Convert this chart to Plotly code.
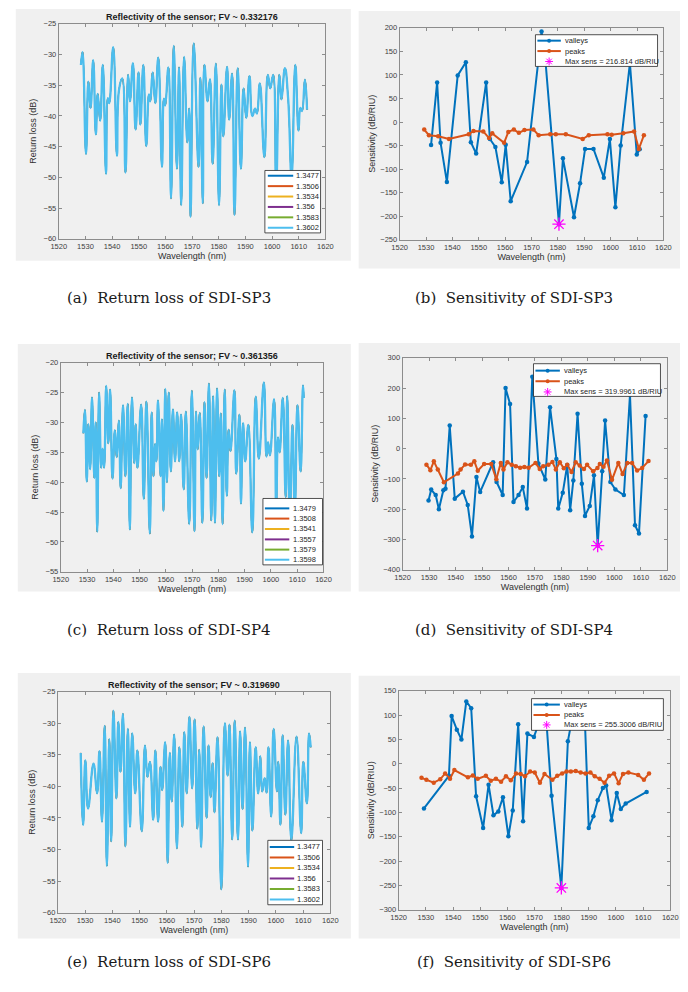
import plotly.graph_objects as go

W, H = 688, 992

# ===================== DATA =====================
wavelength_ticks = [1520, 1530, 1540, 1550, 1560, 1570, 1580, 1590, 1600, 1610, 1620]

# ---- (a) SDI-SP3 return loss (extrema) ----
sp3_fv = "0.332176"
sp3_ri = ["1.3477", "1.3506", "1.3534", "1.356", "1.3583", "1.3602"]
sp3_wl = [1528.3, 1528.9, 1530.2, 1531.1, 1531.9, 1532.9, 1533.9, 1534.6, 1535.5, 1536.5,
          1537.7, 1538.4, 1538.9, 1540.4, 1541.8, 1542.6, 1543.8, 1545.0, 1546.0, 1546.7,
          1547.8, 1548.8, 1549.9, 1550.6, 1551.7, 1552.8, 1553.8, 1554.3, 1555.2, 1556.2,
          1557.3, 1558.7, 1559.4, 1559.9, 1561.1, 1562.1, 1563.1, 1564.3, 1565.1, 1565.9,
          1567.0, 1568.2, 1568.9, 1569.4, 1570.6, 1572.4, 1573.1, 1574.0, 1574.6, 1575.8,
          1576.7, 1577.7, 1578.9, 1580.1, 1581.0, 1581.7, 1583.1, 1583.9, 1585.0, 1585.9,
          1587.1, 1588.3, 1589.3, 1590.3, 1591.5, 1592.6, 1593.6, 1594.3, 1595.4, 1597.1,
          1598.4, 1599.3, 1600.4, 1601.5, 1602.7, 1603.5, 1604.8, 1606.0, 1607.3, 1608.7,
          1609.9, 1610.6, 1611.2, 1612.3, 1613.1]
sp3_rl = [-31.7, -29.6, -46.2, -34.4, -38.7, -30.9, -43.0, -36.4, -40.8, -31.7,
          -49.4, -37.1, -37.9, -28.8, -46.5, -35.7, -33.9, -49.2, -33.3, -37.6,
          -31.4, -42.2, -32.9, -41.4, -31.7, -44.9, -36.5, -37.6, -32.9, -37.9,
          -30.5, -48.3, -37.2, -38.3, -32.1, -53.4, -28.6, -48.6, -32.1, -54.5,
          -30.4, -44.3, -38.8, -56.4, -28.2, -48.3, -33.8, -54.2, -31.7, -37.6,
          -34.0, -47.8, -31.5, -54.5, -34.9, -43.3, -32.0, -40.6, -33.1, -56.1,
          -32.2, -48.6, -35.5, -40.3, -33.5, -40.0, -38.8, -39.6, -34.7, -46.7,
          -33.3, -35.5, -33.3, -52.0, -33.3, -37.3, -32.2, -37.1, -50.0, -31.7,
          -42.4, -38.7, -39.2, -34.1, -39.0]

# ---- (c) SDI-SP4 return loss ----
sp4_fv = "0.361356"
sp4_ri = ["1.3479", "1.3508", "1.3541", "1.3557", "1.3579", "1.3598"]
sp4_wl = [1528.6, 1529.2, 1529.9, 1530.5, 1531.2, 1531.9, 1532.8, 1533.3, 1533.9, 1534.6,
          1535.4, 1535.9, 1536.5, 1537.3, 1538.1, 1538.8, 1539.7, 1540.6, 1541.3, 1542.1,
          1542.8, 1543.7, 1544.6, 1545.5, 1546.3, 1547.1, 1548.0, 1548.5, 1549.2, 1550.6,
          1551.6, 1552.6, 1553.9, 1554.6, 1555.3, 1555.9, 1556.4, 1557.0, 1558.0, 1558.5,
          1559.1, 1559.8, 1560.4, 1561.1, 1561.9, 1562.7, 1563.5, 1564.3, 1565.1, 1565.8,
          1566.8, 1567.6, 1568.9, 1569.9, 1570.9, 1571.5, 1572.1, 1572.9, 1573.9, 1574.7,
          1575.5, 1576.4, 1577.3, 1578.0, 1578.7, 1579.5, 1580.3, 1580.9, 1581.6, 1582.4,
          1583.2, 1583.9, 1584.6, 1586.1, 1586.8, 1588.0, 1588.6, 1589.4, 1590.2, 1591.4,
          1592.9, 1594.2, 1595.4, 1597.3, 1598.3, 1598.9, 1599.6, 1601.2, 1602.0, 1602.7,
          1603.3, 1604.5, 1605.6, 1606.2, 1607.2, 1608.2, 1609.1, 1610.1, 1611.3, 1612.2,
          1612.5]
sp4_rl = [-31.8, -27.9, -39.9, -30.3, -37.8, -25.8, -39.3, -30.0, -48.3, -25.0,
          -37.6, -34.4, -37.6, -23.9, -33.5, -24.5, -39.4, -31.3, -35.8, -29.7,
          -41.0, -27.1, -39.0, -26.9, -47.9, -25.8, -36.8, -30.3, -37.6, -27.0,
          -42.8, -26.5, -48.6, -28.3, -39.0, -33.6, -36.5, -26.3, -39.0, -29.5,
          -44.8, -24.4, -40.0, -25.0, -38.2, -27.8, -36.5, -28.3, -36.5, -28.7,
          -41.2, -28.2, -47.0, -24.7, -48.2, -28.2, -34.5, -28.4, -46.8, -26.6,
          -39.3, -23.5, -46.4, -25.6, -46.8, -24.3, -39.0, -28.5, -47.0, -24.5,
          -42.3, -31.2, -34.8, -24.6, -38.6, -28.7, -43.6, -30.1, -36.5, -30.4,
          -48.4, -25.7, -36.1, -23.3, -35.7, -33.3, -35.5, -26.1, -45.0, -32.5,
          -35.0, -25.9, -42.5, -25.6, -46.0, -30.4, -45.0, -27.1, -38.2, -23.8,
          -25.9]

# ---- (e) SDI-SP6 return loss ----
sp6_fv = "0.319690"
sp6_ri = ["1.3477", "1.3506", "1.3534", "1.356", "1.3583", "1.3602"]
sp6_wl = [1528.4, 1529.3, 1530.1, 1531.1, 1533.1, 1534.4, 1535.3, 1536.2, 1537.2, 1538.0,
          1538.9, 1539.6, 1540.4, 1541.5, 1542.2, 1543.0, 1543.9, 1544.8, 1545.7, 1546.5,
          1547.3, 1548.4, 1549.2, 1550.8, 1552.0, 1552.9, 1553.8, 1555.0, 1555.8, 1556.8,
          1557.7, 1558.3, 1559.4, 1560.3, 1561.1, 1561.8, 1562.7, 1563.7, 1564.6, 1565.7,
          1566.4, 1567.3, 1568.3, 1569.3, 1570.2, 1571.2, 1571.9, 1572.6, 1573.5, 1574.6,
          1575.3, 1576.1, 1576.8, 1577.5, 1578.6, 1580.0, 1581.3, 1582.3, 1583.0, 1584.0,
          1584.9, 1586.1, 1586.9, 1587.8, 1588.7, 1589.8, 1590.5, 1591.4, 1592.6, 1593.5,
          1594.3, 1595.0, 1595.9, 1596.6, 1597.3, 1598.3, 1599.2, 1600.4, 1600.9, 1601.7,
          1602.5, 1603.5, 1604.5, 1605.7, 1607.6, 1609.3, 1610.1, 1611.4, 1612.2, 1612.8]
sp6_rl = [-34.7, -46.1, -35.9, -43.5, -36.4, -41.1, -34.4, -45.6, -30.4, -52.6,
          -32.5, -48.7, -28.0, -41.9, -29.8, -37.7, -28.5, -49.5, -30.9, -46.4,
          -31.6, -41.1, -34.3, -47.1, -33.5, -38.5, -36.1, -45.3, -34.3, -45.6,
          -36.9, -40.6, -33.0, -52.1, -34.7, -42.4, -31.8, -49.8, -33.8, -46.4,
          -31.4, -41.1, -29.0, -40.3, -29.4, -46.7, -34.2, -49.6, -30.5, -45.0,
          -33.5, -41.7, -36.3, -44.1, -32.2, -56.3, -30.0, -38.3, -30.2, -48.4,
          -29.6, -48.4, -31.3, -43.6, -30.7, -52.7, -33.0, -47.0, -33.8, -41.1,
          -35.2, -40.8, -38.7, -41.0, -33.8, -44.8, -30.9, -40.8, -36.1, -46.1,
          -31.9, -44.5, -32.7, -48.5, -32.1, -47.4, -36.1, -42.7, -31.6, -33.8]

# ---- (b) SDI-SP3 sensitivity ----
sp3_valley_wl = [1531.9, 1534.2, 1535.5, 1537.9, 1542.0, 1545.1, 1547.0, 1549.0, 1552.8, 1554.2,
                 1556.3, 1558.7, 1560.2, 1562.1, 1568.3, 1573.8, 1575.2, 1580.4, 1581.9, 1586.1,
                 1588.4, 1590.3, 1593.5, 1597.4, 1599.7, 1601.8, 1603.8, 1607.3, 1609.9, 1611.0]
sp3_valley_s = [-49, 84, -44, -127, 99, 127, -43, -67, 84, -36,
                -53, -128, -48, -168, -85, 192, 135, -216.8, -77, -202,
                -130, -57, -57, -118, -36, -181, -50, 125, -69, -58]
sp3_peak_wl = [1529.3, 1531.1, 1534.6, 1538.7, 1546.2, 1548.0, 1551.7, 1553.9, 1555.1, 1559.6,
               1561.2, 1563.3, 1565.2, 1567.3, 1570.7, 1572.7, 1577.1, 1579.2, 1583.0, 1589.4,
               1591.7, 1598.8, 1600.4, 1604.8, 1608.9, 1610.7, 1612.6]
sp3_peak_s = [-16, -28, -30, -36, -26, -19, -20, -34, -24, -44,
              -21, -16, -23, -17, -16, -28, -26, -26, -26, -36,
              -28, -26, -27, -24, -20, -57, -28]
sp3_max_wl, sp3_max_s, sp3_max_txt = [1580.4], [-216.814], "216.814"

# ---- (d) SDI-SP4 sensitivity ----
sp4_valley_wl = [1529.8, 1530.8, 1532.5, 1533.7, 1535.4, 1536.2, 1537.8, 1539.7, 1542.8, 1544.6,
                 1546.2, 1547.9, 1549.3, 1554.2, 1555.5, 1557.8, 1558.9, 1560.6, 1561.9, 1563.8,
                 1565.4, 1567.0, 1569.0, 1571.3, 1573.9, 1575.7, 1578.1, 1578.8, 1580.5, 1582.2,
                 1583.3, 1584.5, 1586.1, 1587.7, 1588.9, 1590.7, 1592.3, 1593.7, 1595.4, 1596.5,
                 1598.5, 1600.4, 1603.6, 1605.9, 1607.8, 1609.3, 1611.8]
sp4_valley_s = [-171, -135, -153, -200, -137, -132, 76, -165, -142, -186,
                -290, -94, -143, -45, -110, -153, 200, 147, -176, -153,
                -127, -198, 237, -49, -102, 137, -34, -198, -146, -54,
                -203, -105, 115, -116, -222, -189, -88, -320.0, -75, 93,
                -110, -135, -153, 178, -253, -280, 108]
sp4_peak_wl = [1529.0, 1530.5, 1531.8, 1533.3, 1535.6, 1540.9, 1541.9, 1543.6, 1545.8, 1547.1,
               1548.4, 1550.8, 1553.5, 1555.4, 1557.1, 1558.1, 1559.6, 1561.2, 1562.8, 1564.4,
               1566.0, 1567.6, 1570.2, 1571.8, 1573.1, 1575.1, 1576.6, 1577.9, 1579.4, 1580.9,
               1582.2, 1583.8, 1585.4, 1586.9, 1588.5, 1589.7, 1592.0, 1593.6, 1594.5, 1595.9,
               1597.2, 1599.1, 1601.5, 1603.1, 1604.9, 1606.7, 1608.6, 1610.5, 1612.9]
sp4_peak_s = [-53, -71, -42, -69, -111, -82, -69, -52, -53, -42,
              -73, -51, -51, -101, -47, -69, -45, -53, -58, -63,
              -61, -63, -47, -67, -58, -53, -44, -69, -45, -65,
              -53, -77, -45, -56, -67, -53, -75, -64, -51, -60,
              -39, -103, -47, -84, -47, -47, -72, -64, -41]
sp4_max_wl, sp4_max_s, sp4_max_txt = [1593.7], [-319.9961], "319.9961"

# ---- (f) SDI-SP6 sensitivity ----
sp6_valley_wl = [1529.3, 1538.5, 1539.5, 1541.4, 1543.1, 1544.9, 1546.7, 1548.5, 1551.1, 1553.1,
                 1554.9, 1556.7, 1558.4, 1560.4, 1562.0, 1564.0, 1565.8, 1567.4, 1569.8, 1574.0,
                 1576.3, 1579.9, 1582.3, 1584.5, 1588.5, 1590.0, 1591.7, 1593.3, 1595.2, 1596.4,
                 1598.4, 1600.3, 1601.8, 1603.6, 1611.3]
sp6_valley_s = [-92, -25, 98, 70, 50, 128, 114, -67, -132, -43,
                -106, -98, -69, -149, -96, 81, -118, 62, 55, 120,
                -66, -255.3, 46, 112, 100, -132, -108, -75, -50, -45,
                -116, -60, -93, -82, -58]
sp6_peak_wl = [1528.4, 1530.2, 1532.9, 1535.3, 1537.1, 1538.9, 1540.5, 1545.5, 1547.3, 1549.1,
               1552.1, 1553.9, 1555.8, 1557.7, 1559.5, 1561.3, 1563.2, 1564.9, 1566.5, 1568.4,
               1570.1, 1572.0, 1573.7, 1576.6, 1578.4, 1580.2, 1581.8, 1583.4, 1585.2, 1587.0,
               1588.8, 1590.6, 1592.2, 1594.0, 1595.8, 1597.5, 1599.3, 1601.0, 1602.6, 1604.6,
               1608.2, 1610.3, 1612.2]
sp6_peak_s = [-29, -33, -39, -32, -20, -31, -13, -28, -24, -31,
              -25, -35, -31, -37, -26, -34, -20, -21, -26, -16,
              -18, -39, -21, -33, -25, -20, -16, -16, -15, -18,
              -20, -18, -26, -31, -39, -25, -20, -40, -21, -18,
              -23, -33, -20]
sp6_max_wl, sp6_max_s, sp6_max_txt = [1579.9], [-255.3006], "255.3006"

ri_colors = ["#0072BD", "#D95319", "#EDB120", "#7E2F8E", "#77AC30", "#4DBEEE"]
valley_color = "#0072BD"
peak_color = "#D95319"
star_color = "#FF00FF"

# ===================== LAYOUT GEOMETRY (pixels) =====================
FONT = "Liberation Sans, Arial, sans-serif"
SERIF = "DejaVu Serif, serif"

def fx(x):
    return x / W

def fy(y):
    return 1 - y / H

panels = {
    # key: (axis suffix, axes box x0,x1,y0,y1, gray box x0,x1,y0,y1)
    "a": ("", (52, 325, 20, 237), (8, 351, 5, 259)),
    "b": ("2", (401, 671, 24, 238), (359, 688, 7, 267)),
    "c": ("3", (54, 323, 362, 573), (10, 351, 343, 593)),
    "d": ("4", (404, 675, 357, 571), (359, 688, 342, 593)),
    "e": ("5", (51, 330, 694, 917), (10, 351, 675, 943)),
    "f": ("6", (400, 678, 693, 914), (359, 688, 678, 943)),
}

fig = go.Figure()
shapes = []
annotations = []

axis_line = "#8c8c8c"
tick_font = dict(family=FONT, size=7.5, color="#404040")
label_font = dict(family=FONT, size=9, color="#303030")


def add_rect(x0, x1, y0, y1, fill, line_color=None, line_width=0, layer="below"):
    shapes.append(dict(type="rect", xref="paper", yref="paper",
                       x0=fx(x0), x1=fx(x1), y0=fy(y1), y1=fy(y0),
                       fillcolor=fill, layer=layer,
                       line=dict(color=line_color or fill, width=line_width)))


def add_line(x0, x1, y0, y1, color, width):
    shapes.append(dict(type="line", xref="paper", yref="paper",
                       x0=fx(x0), x1=fx(x1), y0=fy(y0), y1=fy(y1),
                       line=dict(color=color, width=width), layer="above"))


def add_text(x, y, text, size, color="#1a1a1a", family=FONT, xanchor="left", yanchor="middle"):
    annotations.append(dict(xref="paper", yref="paper", x=fx(x), y=fy(y), text=text,
                            showarrow=False, xanchor=xanchor, yanchor=yanchor,
                            font=dict(family=family, size=size, color=color)))


def setup_axes(key, yrange, ydtick, ytitle, ystandoff):
    suf, ax, gray = panels[key]
    x0, x1, y0, y1 = ax
    add_rect(*gray, fill="#f0f0f0")
    common = dict(showline=True, linecolor=axis_line, linewidth=1, mirror="allticks",
                  ticks="inside", ticklen=3, tickcolor=axis_line, tickwidth=1,
                  showgrid=False, zeroline=False, tickfont=tick_font, fixedrange=True)
    fig.layout["xaxis" + suf] = dict(domain=[fx(x0), fx(x1)], range=[1520, 1620],
                                     tickvals=wavelength_ticks,
                                     anchor="y" + suf,
                                     title=dict(text="Wavelength (nm)", font=label_font, standoff=2),
                                     **common)
    fig.layout["yaxis" + suf] = dict(domain=[fy(y1), fy(y0)], range=yrange, dtick=ydtick,
                                     tick0=yrange[0], anchor="x" + suf,
                                     title=dict(text=ytitle, font=label_font, standoff=ystandoff),
                                     **common)
    return "x" + suf, "y" + suf


def return_loss_panel(key, wl, rl, ri, fv, yrange, title_y, legend_box, legend_rows, sample_x, text_x):
    xa, ya = setup_axes(key, yrange, 5, "Return loss (dB)", 5)
    n = len(ri)
    for i, (name, col) in enumerate(zip(ri, ri_colors)):
        top = (i == n - 1)
        fig.add_trace(go.Scatter(x=wl, y=rl, mode="lines", name=name, xaxis=xa, yaxis=ya,
                                 line=dict(color=col, width=2.3 if top else 0.8,
                                           shape="spline", smoothing=1.3),
                                 showlegend=False, hoverinfo="skip"))
    x0, x1, _, _ = panels[key][1]
    add_text((x0 + x1) / 2, title_y, "<b>Reflectivity of the sensor; FV ~ %s</b>" % fv, 9,
             color="#1a1a1a", xanchor="center")
    # legend box
    bx0, bx1, by0, by1 = legend_box
    add_rect(bx0, bx1, by0, by1, fill="white", line_color="#262626", line_width=0.8, layer="above")
    for name, col, ry in zip(ri, ri_colors, legend_rows):
        add_line(sample_x[0], sample_x[1], ry, ry, col, 2)
        add_text(text_x, ry, name, 7.5, color="#262626")


def sensitivity_panel(key, vwl, vs, pwl, ps, mwl, ms, mtxt, yrange, ydtick,
                      legend_box, legend_rows, sample_x, text_x):
    xa, ya = setup_axes(key, yrange, ydtick, "Sensitivity (dB/RIU)", 3)
    fig.add_trace(go.Scatter(x=vwl, y=vs, mode="lines+markers", name="valleys", xaxis=xa, yaxis=ya,
                             line=dict(color=valley_color, width=2),
                             marker=dict(color=valley_color, size=4.5),
                             showlegend=False, hoverinfo="skip"))
    fig.add_trace(go.Scatter(x=pwl, y=ps, mode="lines+markers", name="peaks", xaxis=xa, yaxis=ya,
                             line=dict(color=peak_color, width=2),
                             marker=dict(color=peak_color, size=4.5),
                             showlegend=False, hoverinfo="skip"))
    fig.add_trace(go.Scatter(x=mwl, y=ms, mode="markers", name="Max sens", xaxis=xa, yaxis=ya,
                             marker=dict(symbol="asterisk-open", size=11, color=star_color,
                                         line=dict(color=star_color, width=1.3)),
                             showlegend=False, hoverinfo="skip"))
    bx0, bx1, by0, by1 = legend_box
    add_rect(bx0, bx1, by0, by1, fill="white", line_color="#262626", line_width=0.8, layer="above")
    labels = ["valleys", "peaks", "Max sens = %s dB/RIU" % mtxt]
    cols = [valley_color, peak_color, star_color]
    mid = (sample_x[0] + sample_x[1]) / 2
    for i, (lab, col, ry) in enumerate(zip(labels, cols, legend_rows)):
        if i < 2:
            add_line(sample_x[0], sample_x[1], ry, ry, col, 2)
            shapes.append(dict(type="circle", xref="paper", yref="paper",
                               x0=fx(mid - 2), x1=fx(mid + 2), y0=fy(ry + 2), y1=fy(ry - 2),
                               fillcolor=col, line=dict(color=col, width=0), layer="above"))
        else:
            r = 4
            add_line(mid - r, mid + r, ry, ry, col, 1)
            add_line(mid, mid, ry - r, ry + r, col, 1)
            add_line(mid - r * 0.7, mid + r * 0.7, ry - r * 0.7, ry + r * 0.7, col, 1)
            add_line(mid - r * 0.7, mid + r * 0.7, ry + r * 0.7, ry - r * 0.7, col, 1)
        add_text(text_x, ry, lab, 7.5, color="#262626")


# ---- build panels ----
return_loss_panel("a", sp3_wl, sp3_rl, sp3_ri, sp3_fv, [-60, -25], 13,
                  (263, 320, 168, 231), [173.3, 183.8, 194.3, 204.8, 215.3, 225.8], (266, 292), 293)
return_loss_panel("c", sp4_wl, sp4_rl, sp4_ri, sp4_fv, [-55, -20], 355,
                  (261, 322, 499, 566), [509, 519.3, 529.8, 540.3, 550.6, 560.8], (263, 288), 290)
return_loss_panel("e", sp6_wl, sp6_rl, sp6_ri, sp6_fv, [-60, -25], 687,
                  (266, 322, 844, 909), [850.7, 861.3, 871.9, 882.5, 893.1, 903.7], (268, 293), 294)

sensitivity_panel("b", sp3_valley_wl, sp3_valley_s, sp3_peak_wl, sp3_peak_s,
                  sp3_max_wl, sp3_max_s, sp3_max_txt, [-250, 200], 50,
                  (540, 665, 31, 63), [37, 47.5, 58], (542, 566), 568)
sensitivity_panel("d", sp4_valley_wl, sp4_valley_s, sp4_peak_wl, sp4_peak_s,
                  sp4_max_wl, sp4_max_s, sp4_max_txt, [-400, 300], 100,
                  (538, 668, 363, 396), [370, 380.7, 391.5], (540, 565), 567)
sensitivity_panel("f", sp6_valley_wl, sp6_valley_s, sp6_peak_wl, sp6_peak_s,
                  sp6_max_wl, sp6_max_s, sp6_max_txt, [-300, 150], 50,
                  (536, 671, 701, 733), [707, 717.5, 727.5], (538, 565), 567)

# ---- captions ----
captions = [("(a)  Return loss of SDI-SP3", 165, 297), ("(b)  Sensitivity of SDI-SP3", 518, 297),
            ("(c)  Return loss of SDI-SP4", 165, 632), ("(d)  Sensitivity of SDI-SP4", 518, 632),
            ("(e)  Return loss of SDI-SP6", 165, 967), ("(f)  Sensitivity of SDI-SP6", 518, 967)]
for txt, cx, cy in captions:
    add_text(cx, cy, txt, 15, color="#1a1a1a", family=SERIF, xanchor="center")

fig.update_layout(width=W, height=H, margin=dict(l=0, r=0, t=0, b=0),
                  paper_bgcolor="white", plot_bgcolor="white",
                  showlegend=False, shapes=shapes, annotations=annotations)

fig.write_html("out.html", config={"displayModeBar": False})
